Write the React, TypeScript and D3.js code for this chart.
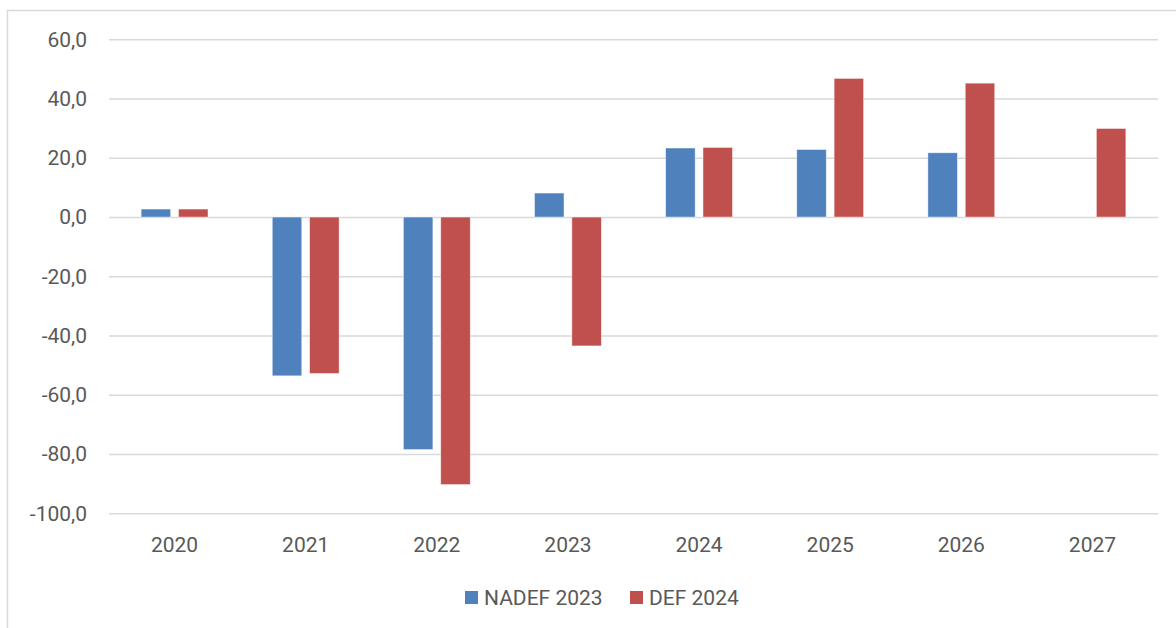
import React, { useEffect, useRef } from 'react';
import * as d3 from 'd3';

const years = ['2020', '2021', '2022', '2023', '2024', '2025', '2026', '2027'];
const seriesNames = ['NADEF 2023', 'DEF 2024'];
const nadef2023 = [2.7, -53.6, -78.5, 8.1, 23.3, 22.8, 21.7, null];
const def2024 = [2.7, -52.8, -90.3, -43.5, 23.5, 46.8, 45.2, 29.9];
const yTicks = [-100, -80, -60, -40, -20, 0, 20, 40, 60];
const colors = ['#4F81BD', '#C0504D'];

const FONT = 'Roboto, "Open Sans", sans-serif';

function App() {
  const svgRef = useRef<SVGSVGElement>(null);

  useEffect(() => {
    const svg = d3.select(svgRef.current);
    svg.selectAll('*').remove();

    const width = 1176;
    const height = 628;
    const plot = { left: 109, right: 1158, top: 39.3, bottom: 513.3 };

    // outer chart border
    svg.append('rect')
      .attr('x', 7.5).attr('y', 10.5)
      .attr('width', width + 10).attr('height', height + 10)
      .attr('fill', '#fff')
      .attr('stroke', '#d9d9d9').attr('stroke-width', 1.5);

    const y = d3.scaleLinear().domain([-100, 60]).range([plot.bottom, plot.top]);
    const x0 = d3.scaleBand().domain(years).range([plot.left, plot.right]).paddingInner(0).paddingOuter(0);
    const x1 = d3.scaleBand().domain(seriesNames).range([0, x0.bandwidth()]).paddingInner(0.21).paddingOuter(0.86);

    const fmt = (d: number) => d3.format('.1f')(d).replace('.', ',').replace('−', '-');

    // gridlines + y labels via axis
    const yAxis = d3.axisLeft(y)
      .tickValues(yTicks)
      .tickSize(-(plot.right - plot.left))
      .tickPadding(22)
      .tickFormat((d) => fmt(d as number));

    const gy = svg.append('g')
      .attr('transform', `translate(${plot.left},0)`)
      .call(yAxis);
    gy.select('.domain').remove();
    gy.selectAll('.tick line').attr('stroke', '#d9d9d9').attr('stroke-width', 1.5);
    gy.selectAll('.tick text')
      .attr('fill', '#595959')
      .style('font-family', FONT)
      .style('font-size', '21px');

    const series = [nadef2023, def2024];
    series.forEach((vals, si) => {
      svg.append('g')
        .selectAll('rect')
        .data(years.map((yr, i) => ({ yr, v: vals[i] })).filter((d) => d.v !== null))
        .enter()
        .append('rect')
        .attr('x', (d) => (x0(d.yr) as number) + (x1(seriesNames[si]) as number))
        .attr('width', x1.bandwidth())
        .attr('y', (d) => y(Math.max(0, d.v as number)))
        .attr('height', (d) => Math.abs(y(d.v as number) - y(0)))
        .attr('fill', colors[si])
        .attr('stroke', '#fff')
        .attr('stroke-opacity', 0.6)
        .attr('stroke-width', 0.75);
    });

    // x labels
    const xAxis = d3.axisBottom(x0).tickSize(0).tickPadding(0);
    const gx = svg.append('g')
      .attr('transform', `translate(0,${plot.bottom + 24})`)
      .call(xAxis);
    gx.select('.domain').remove();
    gx.selectAll('.tick text')
      .attr('fill', '#595959')
      .attr('dy', '0.71em')
      .style('font-family', FONT)
      .style('font-size', '21px');

    // legend
    const legendItems = [
      { name: seriesNames[0], x: 465 },
      { name: seriesNames[1], x: 630 },
    ];
    const lg = svg.append('g');
    legendItems.forEach((it, i) => {
      lg.append('rect')
        .attr('x', it.x).attr('y', 591)
        .attr('width', 13).attr('height', 13)
        .attr('fill', colors[i]);
      lg.append('text')
        .attr('x', it.x + 19).attr('y', 605)
        .attr('fill', '#595959')
        .style('font-family', FONT)
        .style('font-size', '21px')
        .text(it.name);
    });
  }, []);

  return (
    <svg
      ref={svgRef}
      width={1176}
      height={628}
      style={{ position: 'absolute', left: 0, top: 0, background: '#fff' }}
    />
  );
}

export default App;
